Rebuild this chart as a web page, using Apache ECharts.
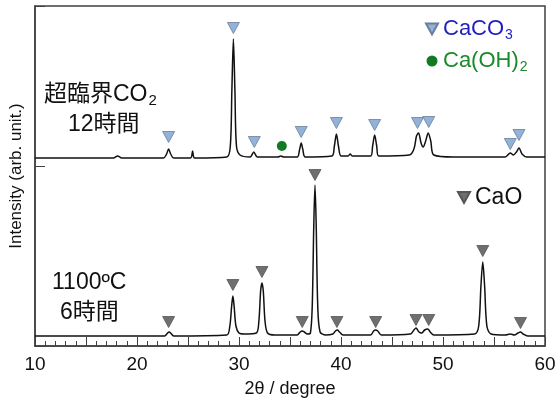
<!DOCTYPE html>
<html><head><meta charset="utf-8">
<script src="https://cdn.jsdelivr.net/npm/echarts@6/dist/echarts.min.js"></script>
<style>html,body{margin:0;padding:0;background:#fff}#c{width:558px;height:399px}</style>
</head><body><div id="c"></div>
<script>
// x: 2θ (degree); y: intensity (arb. unit), the upper trace is offset above the lower one
var scco2Trace = [[10,188],[17.7,188],[18.1,190],[18.5,188],[22.6,188],[22.9,192],[23.1,197],[23.3,192],[23.6,188],[25.25,188],[25.45,195],[25.65,188],[28.8,189],[29.15,200],[29.3,255],[29.45,307],[29.6,255],[29.75,200],[30.1,191],[31.1,189],[31.45,194],[31.8,189],[33.8,189],[34.1,190],[34.4,189],[35.7,189],[35.95,197],[36.1,203],[36.25,197],[36.5,189],[39.1,190],[39.35,200],[39.55,212],[39.75,200],[40.0,190],[40.7,190],[40.9,192],[41.1,190],[42.9,190],[43.1,200],[43.3,211],[43.5,200],[43.7,190],[46.7,191],[47.15,197],[47.4,210],[47.6,213],[47.85,203],[48.05,199],[48.3,205],[48.55,213],[48.8,205],[49.1,191],[51,189],[56.1,189],[56.6,193],[56.9,191],[57.2,194],[57.45,198],[57.75,192],[58.2,189],[60,189]];
var calcinedTrace = [[10,10],[22.7,10],[23.0,13],[23.15,14],[23.3,13],[23.6,10],[28.8,11],[29.1,20],[29.28,40],[29.4,50],[29.52,40],[29.7,20],[30.0,13],[30.5,12],[31.7,13],[31.95,25],[32.12,55],[32.25,63],[32.38,55],[32.55,25],[32.8,13],[33.5,11],[35.7,11],[36.0,14],[36.2,15],[36.4,14],[36.7,12],[37.0,13],[37.18,40],[37.33,120],[37.45,161],[37.57,120],[37.72,40],[37.95,14],[38.5,11],[39.2,12],[39.45,15],[39.65,16],[39.85,14],[40.2,11],[42.9,11],[43.2,15],[43.4,16],[43.6,15],[43.95,11],[46.8,12],[47.15,16],[47.35,18],[47.65,14],[47.9,13],[48.2,16],[48.5,17],[48.75,14],[49.1,11],[53.1,12],[53.5,20],[53.72,60],[53.9,84],[54.08,60],[54.3,20],[54.7,12],[56.1,11],[56.6,12],[57.0,11],[57.35,13],[57.6,14],[57.85,12],[58.3,10],[60,10]];
var caco3Marks = [[23.1,209],[29.45,318],[31.5,204],[36.1,214],[39.55,223],[43.3,221],[47.5,223],[48.6,224],[56.6,202],[57.45,211]];
var caoh2Marks = [[34.2,200]];
var caoMarks = [[23.1,24],[29.4,61],[32.25,74],[36.2,24],[37.45,171],[39.6,24],[43.4,24],[47.35,26],[48.6,26],[53.9,95],[57.6,23]];
var xTickLabels = [10,20,30,40,50,60];
var sampleLabels = ['超臨界CO', '12時間', '1100ºC', '6時間'];

var FONT = '"Liberation Sans", Arial, "Noto Sans CJK JP", sans-serif';
var triPath = 'path://M0,0L10,0L5,9Z';
var chart = echarts.init(document.getElementById('c'), null, {renderer:'canvas'});
var subRich = {
  blue:{fontSize:22, color:'#1f1fbf', fontFamily:FONT},
  blueSub:{fontSize:14, color:'#1f1fbf', fontFamily:FONT, padding:[12,0,0,1]},
  green:{fontSize:22, color:'#1a8a2a', fontFamily:FONT},
  greenSub:{fontSize:14, color:'#1a8a2a', fontFamily:FONT, padding:[12,0,0,1]},
  black:{fontSize:23, color:'#111', fontFamily:FONT}
};
chart.setOption({
  backgroundColor:'#fff',
  animation:false,
  grid:{left:35, right:13, top:6, bottom:53, outerBoundsMode:'none', containLabel:false,
    show:true, borderColor:'#404040', borderWidth:1.5, backgroundColor:'transparent'},
  xAxis:{type:'value', min:10, max:60, interval:5,
    name:'2θ / degree', nameLocation:'middle', nameGap:34,
    nameTextStyle:{fontFamily:FONT, fontSize:18, color:'#111'},
    axisLine:{show:true, lineStyle:{color:'#404040', width:1.5}},
    axisTick:{show:true, inside:true, length:9, lineStyle:{color:'#404040', width:1}},
    minorTick:{show:true, splitNumber:5, length:5, lineStyle:{color:'#404040', width:1}},
    axisLabel:{margin:9, fontFamily:FONT, fontSize:19, color:'#111',
      formatter:function(v){return xTickLabels.indexOf(v)>=0 ? String(v) : '';}},
    splitLine:{show:false}},
  yAxis:{type:'value', min:0, max:340, interval:180,
    name:'Intensity (arb. unit.)', nameLocation:'middle', nameGap:10,
    nameTextStyle:{fontFamily:FONT, fontSize:17, color:'#111'},
    axisLine:{show:true, lineStyle:{color:'#404040', width:1.5}},
    axisTick:{show:true, inside:true, length:10, lineStyle:{color:'#404040', width:1}},
    axisLabel:{show:false}, splitLine:{show:false}},
  legend:[
    {orient:'vertical', left:420, top:13, itemGap:8, itemWidth:12, itemHeight:11,
     data:[{name:'CaCO3', icon:triPath}, {name:'Ca(OH)2', icon:'circle'}],
     textStyle:{rich:subRich},
     formatter:function(n){return n==='CaCO3' ? '{blue|CaCO}{blueSub|3}' : '{green|Ca(OH)}{greenSub|2}';}},
    {orient:'vertical', left:452, top:181, itemWidth:12, itemHeight:11,
     data:[{name:'CaO', icon:triPath}],
     textStyle:{rich:subRich},
     formatter:function(){return '{black|CaO}';}}
  ],
  graphic:[
    {type:'text', left:44, top:83, style:{rich:{a:{fontSize:23, fontFamily:FONT, fill:'#111'}, s:{fontSize:15, fontFamily:FONT, fill:'#111', padding:[12,0,0,1]}}, text:'{a|'+sampleLabels[0]+'}{s|2}'}},
    {type:'text', left:68, top:113, style:{text:sampleLabels[1], font:'23px '+FONT, fill:'#111'}},
    {type:'text', left:52, top:271, style:{text:sampleLabels[2], font:'23px '+FONT, fill:'#111'}},
    {type:'text', left:60, top:301, style:{text:sampleLabels[3], font:'23px '+FONT, fill:'#111'}}
  ],
  series:[
    {name:'scco2', type:'line', data:scco2Trace, showSymbol:false, smooth:0.3, lineStyle:{color:'#111', width:1.5}, z:3},
    {name:'calcined', type:'line', data:calcinedTrace, showSymbol:false, smooth:0.3, lineStyle:{color:'#111', width:1.5}, z:3},
    {name:'CaCO3', type:'scatter', data:caco3Marks, symbol:'triangle', symbolRotate:180, symbolSize:[12,11],
      itemStyle:{color:'#92b2da', borderColor:'#6a7f99', borderWidth:0.8, opacity:1}, z:4},
    {name:'Ca(OH)2', type:'scatter', data:caoh2Marks, symbol:'circle', symbolSize:10,
      itemStyle:{color:'#137a23', opacity:1}, z:4},
    {name:'CaO', type:'scatter', data:caoMarks, symbol:'triangle', symbolRotate:180, symbolSize:[12,11],
      itemStyle:{color:'#6f6f6f', borderColor:'#555', borderWidth:0.8, opacity:1}, z:4}
  ]
});
</script></body></html>
